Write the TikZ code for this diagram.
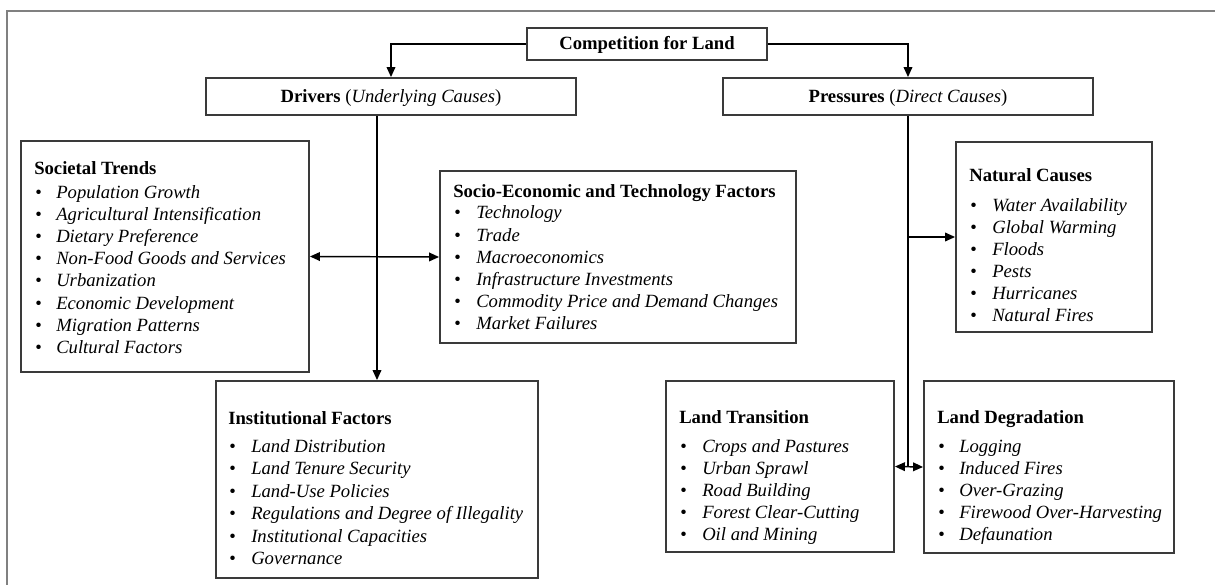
\documentclass[tikz,border=0pt]{standalone}
\usepackage{fontspec}
\setmainfont{Liberation Serif}
\usetikzlibrary{arrows.meta,fit}
\definecolor{framegray}{HTML}{808080}
\definecolor{boxgray}{HTML}{3A3A3A}
\begin{document}
\begin{tikzpicture}[x=0.75pt,y=-0.75pt,
  box/.style={draw=boxgray, line width=1.4pt, inner sep=0pt},
  conn/.style={line width=1.1pt, draw=black},
  tip/.style={-{Triangle[length=7.5pt,width=6.5pt]}},
  dtip/.style={{Triangle[length=7.5pt,width=6.5pt]}-{Triangle[length=7.5pt,width=6.5pt]}},
  head/.style={font=\fontsize{14pt}{16pt}\selectfont\bfseries, anchor=base west, inner sep=0pt},
  bul/.style={font=\fontsize{14pt}{16pt}\selectfont, anchor=base west, inner sep=0pt},
  itm/.style={font=\fontsize{14pt}{16pt}\selectfont\itshape, anchor=base west, inner sep=0pt},
  label/.style={font=\fontsize{14pt}{16pt}\selectfont, anchor=base, inner sep=0pt}]
\useasboundingbox (0,0) rectangle (1215,585);
\fill[white] (0,0) rectangle (1215,585);

% outer frame (top and left edges)
\draw[framegray, line width=1.5pt] (7,585) -- (7,11) -- (1215,11);

% top-level boxes
\node[box, fit={(527,28) (767,60)}] (comp) {};
\node[label] (compt) at (647,50) {\bfseries Competition for Land};
\node[box, fit={(206,78) (576,115)}] (drv) {};
\node[label] (drvt) at (391,103) {\textbf{Drivers} (\textit{Underlying Causes})};
\node[box, fit={(723,78) (1093,115)}] (prs) {};
\node[label] (prst) at (908,103) {\textbf{Pressures} (\textit{Direct Causes})};

% list boxes
\node[box, fit={(21,141) (309,372)}] (soc) {};
\node[box, fit={(440,171) (796,343)}] (sef) {};
\node[box, fit={(956,142) (1152,332)}] (nat) {};
\node[box, fit={(216,381) (538,578)}] (inst) {};
\node[box, fit={(666,381) (894,552)}] (lt) {};
\node[box, fit={(924,381) (1174,553)}] (ld) {};

% Societal Trends
\node[head] (soch) at (34,175) {Societal Trends};
\foreach \t [count=\i] in {Population Growth, Agricultural Intensification,
  Dietary Preference, Non-Food Goods and Services, Urbanization,
  Economic Development, Migration Patterns, Cultural Factors} {
  \node[bul] (socb\i) at (35,{198+22.2*(\i-1)}) {\textbullet};
  \node[itm] (soci\i) at (56,{198+22.2*(\i-1)}) {\t};
}

% Socio-Economic and Technology Factors
\node[head] (sefh) at (453,197) {Socio-Economic and Technology Factors};
\foreach \t [count=\i] in {Technology, Trade, Macroeconomics,
  Infrastructure Investments, Commodity Price and Demand Changes,
  Market Failures} {
  \node[bul] (sefb\i) at (454,{219+22.1*(\i-1)}) {\textbullet};
  \node[itm] (sefi\i) at (476,{219+22.1*(\i-1)}) {\t};
}

% Natural Causes
\node[head] (nath) at (969,181) {Natural Causes};
\foreach \t [count=\i] in {Water Availability, Global Warming, Floods,
  Pests, Hurricanes, Natural Fires} {
  \node[bul] (natb\i) at (970,{211+22*(\i-1)}) {\textbullet};
  \node[itm] (nati\i) at (992,{211+22*(\i-1)}) {\t};
}

% Institutional Factors
\node[head] (insth) at (228,424) {Institutional Factors};
\foreach \t [count=\i] in {Land Distribution, Land Tenure Security,
  Land-Use Policies, Regulations and Degree of Illegality,
  Institutional Capacities, Governance} {
  \node[bul] (instb\i) at (229,{452.5+22.4*(\i-1)}) {\textbullet};
  \node[itm] (insti\i) at (251,{452.5+22.4*(\i-1)}) {\t};
}

% Land Transition
\node[head] (lth) at (679,423) {Land Transition};
\foreach \t [count=\i] in {Crops and Pastures, Urban Sprawl, Road Building,
  Forest Clear-Cutting, Oil and Mining} {
  \node[bul] (ltb\i) at (680,{452+22.2*(\i-1)}) {\textbullet};
  \node[itm] (lti\i) at (702,{452+22.2*(\i-1)}) {\t};
}

% Land Degradation
\node[head] (ldh) at (937,423) {Land Degradation};
\foreach \t [count=\i] in {Logging, Induced Fires, Over-Grazing,
  Firewood Over-Harvesting, Defaunation} {
  \node[bul] (ldb\i) at (938,{452+22.2*(\i-1)}) {\textbullet};
  \node[itm] (ldi\i) at (959,{452+22.2*(\i-1)}) {\t};
}

% connectors
\draw[conn,tip] (comp.west) -| (drv.north);
\draw[conn,tip] (comp.east) -| (prs.north);
\draw[conn,tip] (drv.south -| inst.north) -- (inst.north);
\draw[conn,dtip] (soc.east) -- (sef.west);
\coordinate (pend) at (prs.south |- lt.east);
\draw[conn] (prs.south) -- (pend);
\draw[conn,tip] (prs.south |- nat.west) -- (nat.west);
\draw[conn,dtip] (lt.east) -- (ld.west);
\end{tikzpicture}
\end{document}
